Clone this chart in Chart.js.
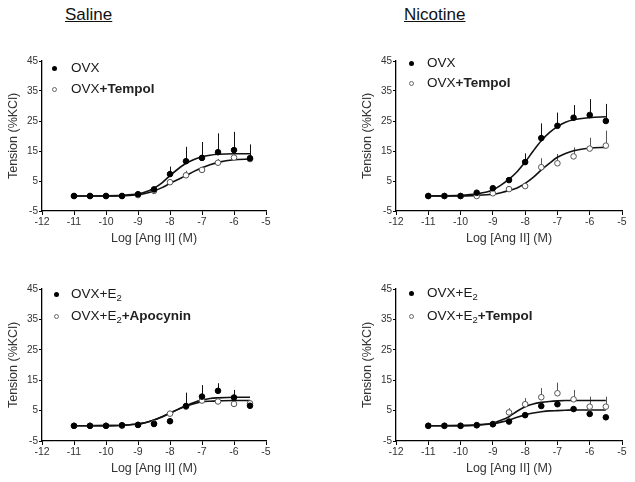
<!DOCTYPE html>
<html><head><meta charset="utf-8">
<script src="https://cdn.jsdelivr.net/npm/chart.js@4.4.0/dist/chart.umd.min.js"></script>
<style>
html,body{margin:0;padding:0;background:#fff;}
body{width:635px;height:482px;position:relative;overflow:hidden;font-family:"Liberation Sans",Arial,sans-serif;}
canvas{position:absolute;}
.title{position:absolute;font-size:17px;line-height:17px;text-decoration:underline;color:#111;white-space:nowrap;}
.leg{position:absolute;font-size:13.5px;line-height:14px;height:14px;color:#1a1a1a;white-space:nowrap;}
.leg b{font-weight:bold;color:#222;}
.leg sub{font-size:9.5px;vertical-align:-3px;line-height:0;}
.mk{position:absolute;width:5px;height:5px;border-radius:50%;box-sizing:border-box;}
.mk.f{background:#000;}
.mk.o{background:#fff;border:1px solid #666;}
</style></head>
<body>
<div class="title" style="left:65px;top:5.6px;">Saline</div>
<div class="title" style="left:404px;top:5.6px;">Nicotine</div>

<canvas id="c1" width="285" height="210" style="left:0;top:40px;"></canvas>
<canvas id="c2" width="281" height="210" style="left:354px;top:40px;"></canvas>
<canvas id="c3" width="285" height="212" style="left:0;top:268px;"></canvas>
<canvas id="c4" width="281" height="212" style="left:354px;top:268px;"></canvas>

<div class="mk f" style="left:52px;top:66px;"></div>
<div class="leg" style="left:71px;top:61px;">OVX</div>
<div class="mk o" style="left:52px;top:87px;"></div>
<div class="leg" style="left:71px;top:82px;">OVX<b>+Tempol</b></div>

<div class="mk f" style="left:409px;top:61px;"></div>
<div class="leg" style="left:427px;top:56px;">OVX</div>
<div class="mk o" style="left:409px;top:81px;"></div>
<div class="leg" style="left:427px;top:76px;">OVX<b>+Tempol</b></div>

<div class="mk f" style="left:54px;top:292px;"></div>
<div class="leg" style="left:71px;top:287px;">OVX+E<sub>2</sub></div>
<div class="mk o" style="left:54px;top:314px;"></div>
<div class="leg" style="left:71px;top:309px;">OVX+E<sub>2</sub><b>+Apocynin</b></div>

<div class="mk f" style="left:409px;top:291px;"></div>
<div class="leg" style="left:427px;top:286px;">OVX+E<sub>2</sub></div>
<div class="mk o" style="left:409px;top:314px;"></div>
<div class="leg" style="left:427px;top:309px;">OVX+E<sub>2</sub><b>+Tempol</b></div>

<script>
// ---- data ----
const doseLog = [-11, -10.5, -10, -9.5, -9, -8.5, -8, -7.5, -7, -6.5, -6, -5.5];
const fitLog  = [-11, -10, -9.5, -9, -8.75, -8.5, -8.25, -8, -7.75, -7.5, -7.25, -7, -6.75, -6.5, -6, -5.5];
const xTickLabels = [-12, -11, -10, -9, -8, -7, -6, -5];
const yTickLabels = [-5, 5, 15, 25, 35, 45];

// Saline: OVX (filled) vs OVX+Tempol (open)
const salineOVX        = [0, 0, 0, 0, 0.6, 2.2, 7.3, 11.6, 12.7, 14.6, 15.3, 12.6];
const salineOVXErr     = [0, 0, 0, 0, 0, 0.4, 2.5, 4.8, 5.3, 6.3, 6.1, 4.6];
const salineOVXFit     = [0, 0.05, 0.2, 0.7, 1.4, 2.6, 4.4, 6.8, 9.0, 10.9, 12.2, 13.1, 13.6, 13.9, 14.1, 14.1];
const salineTempol     = [0, 0, 0, 0, 0.3, 1.7, 4.6, 6.9, 8.7, 11.1, 12.8, 12.3];
const salineTempolErr  = [0, 0, 0, 0, 0, 0, 0.8, 1.5, 1.0, 1.2, 1.2, 0];
const salineTempolFit  = [0, 0.02, 0.1, 0.4, 0.9, 1.7, 2.8, 4.2, 5.5, 6.8, 8.2, 9.4, 10.4, 11.2, 12.1, 12.3];

// Nicotine: OVX (filled) vs OVX+Tempol (open)
const nicOVX        = [0, 0, 0, 1.1, 2.6, 5.3, 11.3, 19.3, 23.4, 26.1, 27.0, 25.0];
const nicOVXErr     = [0, 0, 0, 0, 0, 1.0, 2.9, 4.9, 4.4, 4.2, 5.3, 5.7];
const nicOVXFit     = [0, 0.2, 0.7, 2.0, 3.6, 5.6, 8.1, 11.3, 15.0, 18.4, 21.1, 23.1, 24.6, 25.4, 26.1, 26.4];
const nicTempol     = [0, 0, 0, 0, 0.9, 2.3, 3.3, 9.6, 10.9, 13.2, 15.8, 16.8];
const nicTempolErr  = [0, 0, 0, 0, 0, 0, 0, 3.0, 3.1, 3.0, 3.6, 5.0];
const nicTempolFit  = [0, 0.05, 0.2, 0.6, 1.1, 1.8, 2.7, 4.2, 6.2, 8.7, 10.9, 12.9, 14.2, 15.1, 16.0, 16.2];

// Saline: OVX+E2 (filled) vs OVX+E2+Apocynin (open)
const e2Sal          = [0, 0, 0, 0.2, 0.3, 0.6, 1.5, 6.5, 9.6, 11.5, 9.3, 6.6];
const e2SalErr       = [0, 0, 0, 0, 0, 0, 0, 4.4, 3.8, 2.5, 2.5, 0];
const e2SalFit       = [0, 0.05, 0.2, 0.6, 1.1, 1.9, 2.9, 4.1, 5.4, 6.6, 7.7, 8.5, 9.0, 9.2, 9.4, 9.4];
const apocynin       = [0, 0, 0, 0, 0.3, 0.8, 4.0, 6.3, 8.3, 8.0, 7.2, 7.4];
const apocyninErr    = [0, 0, 0, 0, 0, 0, 0, 0, 0, 0, 0, 0];
const apocyninFit    = [0, 0.05, 0.2, 0.6, 1.1, 1.9, 3.0, 4.2, 5.4, 6.5, 7.3, 7.9, 8.1, 8.2, 8.3, 8.3];

// Nicotine: OVX+E2 (filled) vs OVX+E2+Tempol (open)
const e2Nic          = [0, 0, 0, 0.2, 0.5, 1.4, 3.5, 6.5, 7.1, 5.5, 3.9, 2.8];
const e2NicErr       = [0, 0, 0, 0, 0, 0, 0, 0, 0, 0, 0, 0];
const e2NicFit       = [0, 0.05, 0.2, 0.7, 1.2, 1.9, 2.8, 3.6, 4.2, 4.6, 4.9, 5.0, 5.1, 5.2, 5.2, 5.2];
const e2Tempol       = [0, 0, 0, 0.2, 0.6, 4.4, 7.1, 9.4, 10.7, 8.7, 6.3, 6.3];
const e2TempolErr    = [0, 0, 0, 0, 0, 1.4, 2.0, 3.0, 3.5, 3.1, 3.3, 3.3];
const e2TempolFit    = [0, 0.05, 0.3, 0.9, 1.8, 3.0, 4.8, 6.3, 7.2, 7.7, 8.0, 8.2, 8.3, 8.3, 8.3, 8.3];

const xTitle = 'Log [Ang II] (M)';
const yTitle = 'Tension (%KCl)';

// ---- drawing ----
const FONT = '"Liberation Sans", Arial, sans-serif';
const pts = (xs, ys) => xs.map((x, i) => ({x: x, y: ys[i]}));

const errPlugin = {
  id: 'errbars',
  beforeDatasetsDraw(chart) {
    const ctx = chart.ctx, xs = chart.scales.x, ys = chart.scales.y;
    chart.data.datasets.forEach(ds => {
      if (!ds.errorBars) return;
      ctx.save();
      ctx.strokeStyle = ds.errColor;
      ctx.lineWidth = 1;
      ds.data.forEach((p, i) => {
        const e = ds.errorBars[i];
        if (!e) return;
        const px = Math.round(xs.getPixelForValue(p.x)) + 0.5;
        ctx.beginPath();
        ctx.moveTo(px, ys.getPixelForValue(p.y));
        ctx.lineTo(px, ys.getPixelForValue(p.y + e));
        ctx.stroke();
      });
      ctx.restore();
    });
  }
};

function makePanel(id, padRight, fVals, fErr, fFit, oVals, oErr, oFit) {
  new Chart(document.getElementById(id), {
    type: 'scatter',
    data: {
      datasets: [
        { data: pts(doseLog, fVals), errorBars: fErr, errColor: '#111',
          pointRadius: 2.8, pointBackgroundColor: '#000', pointBorderColor: '#000', pointBorderWidth: 1, showLine: false },
        { data: pts(doseLog, oVals), errorBars: oErr, errColor: '#555',
          pointRadius: 2.8, pointBackgroundColor: '#fff', pointBorderColor: '#555', pointBorderWidth: 1, showLine: false },
        { type: 'line', data: pts(fitLog, fFit), borderColor: '#111', borderWidth: 1.6, pointRadius: 0,
          cubicInterpolationMode: 'monotone', fill: false },
        { type: 'line', data: pts(fitLog, oFit), borderColor: '#111', borderWidth: 1.6, pointRadius: 0,
          cubicInterpolationMode: 'monotone', fill: false }
      ]
    },
    options: {
      responsive: false, animation: false, devicePixelRatio: 1,
      layout: { padding: { top: 21, right: padRight, bottom: 0, left: 0 } },
      plugins: { legend: { display: false }, tooltip: { enabled: false } },
      scales: {
        x: {
          type: 'linear', min: xTickLabels[0], max: xTickLabels[xTickLabels.length - 1],
          afterBuildTicks: s => { s.ticks = xTickLabels.map(v => ({value: v})); },
          ticks: { font: { family: FONT, size: 10.5 }, color: '#333', padding: 1, maxRotation: 0, autoSkip: false },
          grid: { display: true, drawOnChartArea: false, drawTicks: true, tickLength: 4, color: '#000', lineWidth: 1 },
          border: { display: true, color: '#000', width: 1.3 },
          title: { display: true, text: xTitle, font: { family: FONT, size: 12.5 }, color: '#333', padding: { top: 0, bottom: 4 } },
          afterFit: s => { s.height = 39; }
        },
        y: {
          type: 'linear', min: yTickLabels[0], max: yTickLabels[yTickLabels.length - 1],
          afterBuildTicks: s => { s.ticks = yTickLabels.map(v => ({value: v})); },
          ticks: { font: { family: FONT, size: 10 }, color: '#333', padding: 1, autoSkip: false },
          grid: { display: true, drawOnChartArea: false, drawTicks: true, tickLength: 3, color: '#000', lineWidth: 1 },
          border: { display: true, color: '#000', width: 1.3 },
          title: { display: true, text: yTitle, font: { family: FONT, size: 12.5 }, color: '#333', padding: { top: 6, bottom: 0 } },
          afterFit: s => { s.width = 42; }
        }
      }
    },
    plugins: [errPlugin]
  });
}

makePanel('c1', 19, salineOVX, salineOVXErr, salineOVXFit, salineTempol, salineTempolErr, salineTempolFit);
makePanel('c2', 13, nicOVX, nicOVXErr, nicOVXFit, nicTempol, nicTempolErr, nicTempolFit);
makePanel('c3', 19, e2Sal, e2SalErr, e2SalFit, apocynin, apocyninErr, apocyninFit);
makePanel('c4', 13, e2Nic, e2NicErr, e2NicFit, e2Tempol, e2TempolErr, e2TempolFit);
</script>
</body></html>
